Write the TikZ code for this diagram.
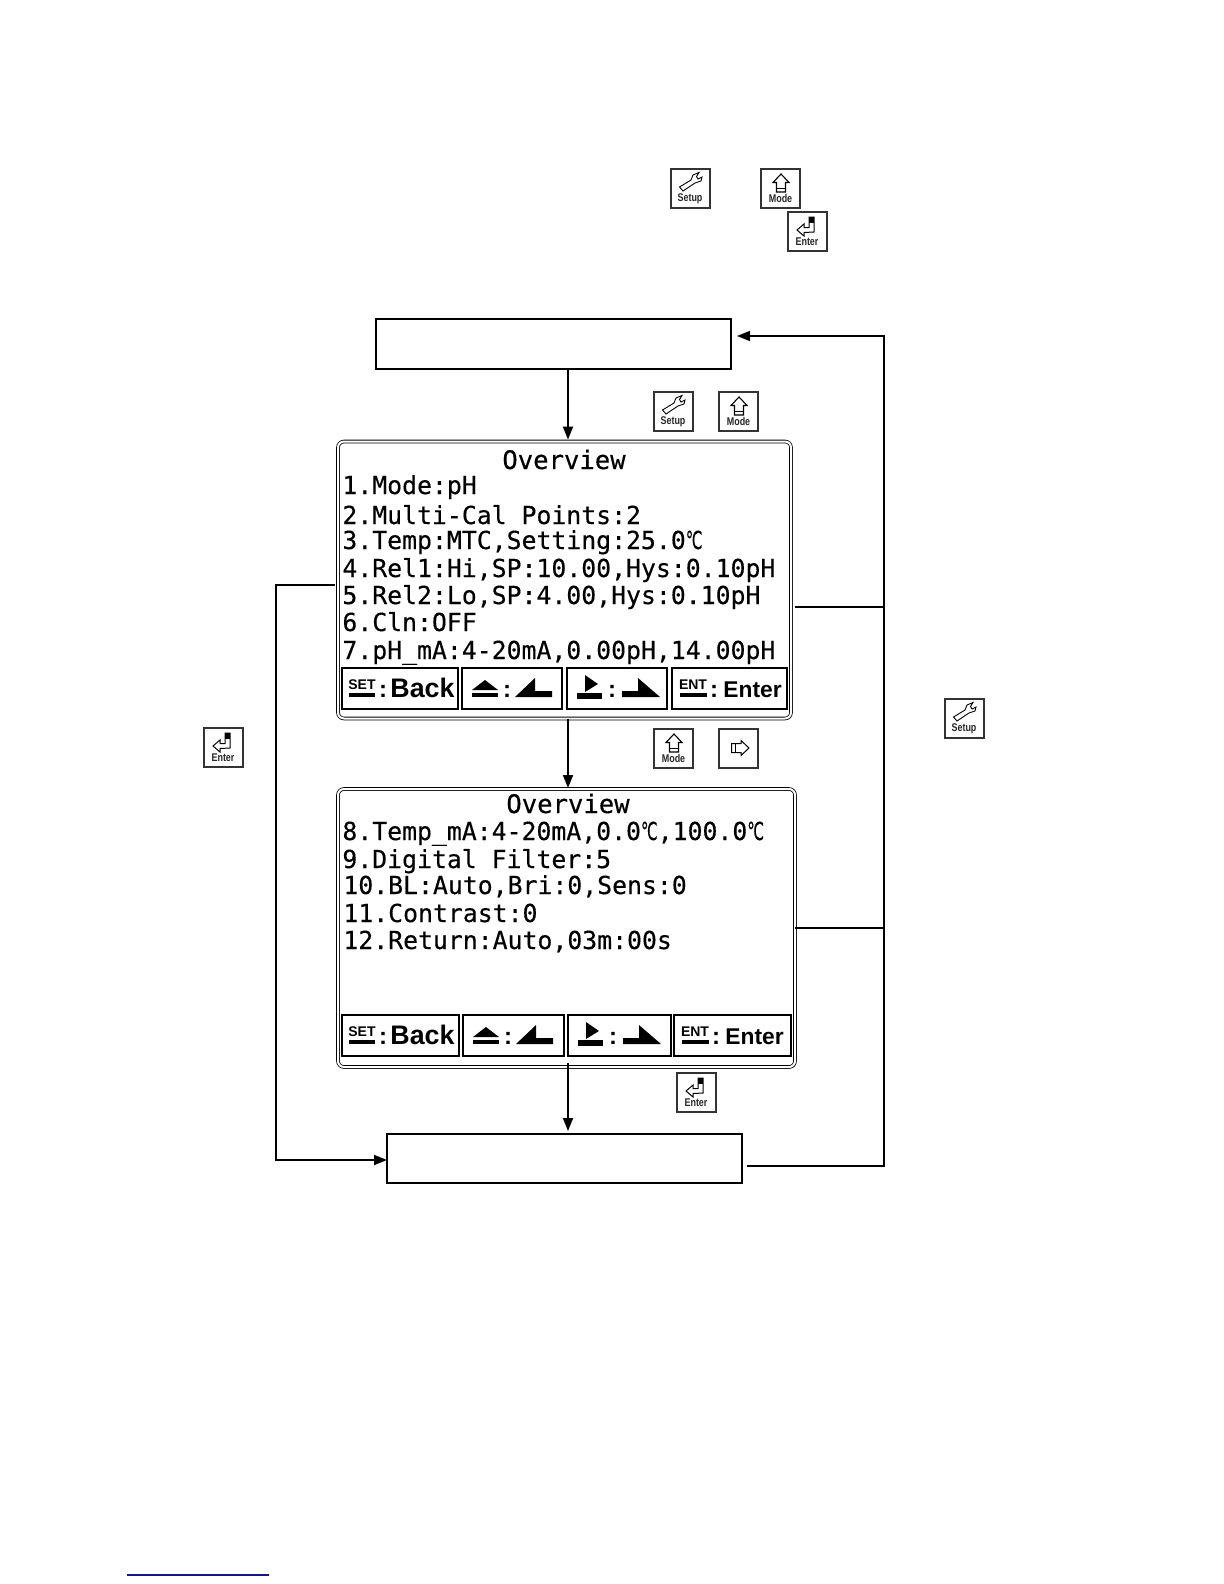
\documentclass[tikz,border=0pt]{standalone}
\usepackage{fontspec}
\setmainfont{Liberation Sans}
\newfontfamily\lcdfont[FakeBold=0.35]{DejaVu Sans Mono}
\newfontfamily\degfont[FakeBold=0.35]{DejaVu Sans}
\usepackage{tikz}
\usetikzlibrary{arrows.meta, positioning, calc}
\newcommand{\degc}{\scalebox{0.6}[1]{\degfont ℃}}
\newcommand{\keyword}[1]{\scalebox{0.8}[1]{#1}}
\tikzset{
    keyframe/.style={rectangle, draw=black!80, line width=0.6pt, minimum size=19.5pt, inner sep=0pt, outer sep=0pt, anchor=north west},
    keylabel/.style={inner sep=0pt, font=\bfseries\fontsize{5.6}{6}\selectfont, text=black!85},
    softkey/.style={rectangle, draw, line width=1.4pt, minimum height=20.5pt, inner sep=0pt, outer sep=0pt, anchor=north west},
    softtag/.style={inner sep=0pt, font=\bfseries\fontsize{7}{8}\selectfont},
    softword/.style={inner sep=0pt, anchor=base west, font=\bfseries\fontsize{13.4}{14}\selectfont},
    softcolon/.style={inner sep=0pt, font=\bfseries\fontsize{12}{14}\selectfont},
    panel/.style={rectangle, draw, line width=0.4pt, double, double distance=1pt, rounded corners=3pt, inner sep=0pt, outer sep=0pt},
    lcdline/.style={inner sep=0pt, anchor=base west, font=\lcdfont\fontsize{12.4}{14}\selectfont},
    lcdhead/.style={inner sep=0pt, anchor=base, font=\lcdfont\fontsize{12.8}{14}\selectfont},
    stepbox/.style={rectangle, draw, line width=0.55pt, inner sep=0pt, outer sep=0pt},
    arrow/.style={-{Stealth[length=6.5pt, width=5pt, inset=0pt]}, line width=0.9pt},
    thinline/.style={line width=0.55pt},
    pics/setupkey/.style={code={
        \node[keyframe] (-frame) at (0,0) {};
        \draw[line width=0.45pt] (8.5,18) -- (20,11) -- (22,6) -- (28,3.5) -- (25.5,7.5) -- (27,10) -- (31,8) -- (30,12) -- (24,14) -- (12,22) -- cycle;
        \node[keylabel] (-text) at (19,29.5) {\keyword{Setup}};
    }},
    pics/modekey/.style={code={
        \node[keyframe] (-frame) at (0,0) {};
        \draw[line width=0.55pt] (20,5) -- (28,13.5) -- (24.5,13.5) -- (24.5,23) -- (15.5,23) -- (15.5,13.5) -- (12,13.5) -- cycle;
        \draw[line width=0.55pt] (15.5,19.5) -- (24.5,19.5);
        \node[keylabel] (-text) at (19.5,29.5) {\keyword{Mode}};
    }},
    pics/enterkey/.style={code={
        \node[keyframe] (-frame) at (0,0) {};
        \draw[line width=0.5pt] (9,18) -- (16,12) -- (16,15.5) -- (21,15.5) -- (21,5) -- (26,5) -- (26,20) -- (16,20.5) -- (16,24) -- cycle;
        \fill (21,5) rectangle (26,11);
        \node[keylabel] (-text) at (19,29.5) {\keyword{Enter}};
    }},
    pics/shiftkey/.style={code={
        \node[keyframe] (-frame) at (0,0) {};
        \draw[line width=0.5pt] (12.5,14.5) -- (22,14.5) -- (22,11.5) -- (30,19) -- (22,26.5) -- (22,23.5) -- (12.5,23.5) -- cycle;
        \draw[line width=0.5pt] (16,14.5) -- (16,23.5);
    }},
    pics/backsoft/.style={code={
        \node[softkey, minimum width=#1*0.5pt] (-frame) at (0,0) {};
        \node[softtag] (-tag) at (20,17) {SET};
        \fill (7,25) rectangle (33,29);
        \node[softcolon] (-colon) at (41,23) {:};
        \node[softword] (-word) at (48,29) {Back};
    }},
    pics/upsoft/.style={code={
        \node[softkey, minimum width=#1*0.5pt] (-frame) at (0,0) {};
        \fill (10,22) -- (23,12) -- (36,22) -- cycle;
        \fill (10,25) rectangle (36,29);
        \node[softcolon] (-colon) at (45,23) {:};
        \fill (53,29) -- (73,10) -- (73,23) -- (90,23) -- (90,29) -- cycle;
    }},
    pics/rightsoft/.style={code={
        \node[softkey, minimum width=#1*0.5pt] (-frame) at (0,0) {};
        \fill (18,7) -- (31,16) -- (18,24) -- cycle;
        \fill (10,25) rectangle (35,31);
        \node[softcolon] (-colon) at (45,23) {:};
        \fill (55,29) -- (55,23) -- (71,23) -- (71,10) -- (93,29) -- cycle;
    }},
    pics/entersoft/.style={code={
        \node[softkey, minimum width=#1*0.5pt] (-frame) at (0,0) {};
        \node[softtag] (-tag) at (21,17) {ENT};
        \fill (8,25) rectangle (35,29);
        \node[softcolon] (-colon) at (42,23) {:};
        \node[softword, font=\bfseries\fontsize{11.4}{14}\selectfont] (-word) at (51,29) {Enter};
    }}
}
\begin{document}
\begin{tikzpicture}[x=0.5pt, y=-0.5pt]
\useasboundingbox (0,0) rectangle (1224,1584);

\pic (setupa) at (671,169) {setupkey};
\pic (modea) at (761,169) {modekey};
\pic (entera) at (788,212) {enterkey};

\node[stepbox, minimum width=177.5pt, minimum height=25pt] (start) at (553.5,344) {};
\node[stepbox, minimum width=177.5pt, minimum height=24.5pt] (finish) at (564.5,1158.5) {};
\node[panel, minimum width=226.5pt, minimum height=138.5pt] (panela) at (564.5,580) {};
\node[panel, minimum width=228.5pt, minimum height=139pt] (panelb) at (566.5,928) {};

\pic (setupb) at (654,392) {setupkey};
\pic (modeb) at (719,392) {modekey};
\pic (modec) at (654,729) {modekey};
\pic (shiftc) at (719,729) {shiftkey};
\pic (enterd) at (677,1073) {enterkey};
\pic (enterl) at (204,728) {enterkey};
\pic (setupr) at (945,699) {setupkey};

\node[lcdhead] (heada) at (564,469) {Overview};
\node[lcdline] (la) at (342,494) {1.Mode:pH};
\node[lcdline] (lb) at (342,524) {2.Multi-Cal Points:2};
\node[lcdline] (lc) at (342,549) {3.Temp:MTC,Setting:25.0\degc};
\node[lcdline] (ld) at (342,577) {4.Rel1:Hi,SP:10.00,Hys:0.10pH};
\node[lcdline] (le) at (342,604) {5.Rel2:Lo,SP:4.00,Hys:0.10pH};
\node[lcdline] (lf) at (342,631) {6.Cln:OFF};
\node[lcdline] (lg) at (342,659) {7.pH\_mA:4-20mA,0.00pH,14.00pH};

\pic (softaa) at (342,668) {backsoft=116};
\pic (softab) at (462,668) {upsoft=100};
\pic (softac) at (567,668) {rightsoft=100};
\pic (softad) at (672,668) {entersoft=115};

\node[lcdhead] (headb) at (568,813) {Overview};
\node[lcdline] (lh) at (342,840) {8.Temp\_mA:4-20mA,0.0\degc,100.0\degc};
\node[lcdline] (li) at (342,868) {9.Digital Filter:5};
\node[lcdline] (lj) at (343,894) {10.BL:Auto,Bri:0,Sens:0};
\node[lcdline] (lk) at (343,922) {11.Contrast:0};
\node[lcdline] (ll) at (343,949) {12.Return:Auto,03m:00s};

\pic (softba) at (342,1015) {backsoft=117};
\pic (softbb) at (463,1015) {upsoft=101};
\pic (softbc) at (568,1015) {rightsoft=103};
\pic (softbd) at (674,1015) {entersoft=117};

\coordinate (mid) at (568,0);
\coordinate (busa) at (884,607);
\coordinate (busb) at (884,928);
\coordinate (busc) at (884,1166);
\coordinate (bustop) at (884,336);
\coordinate (lefta) at (276,585);
\coordinate (leftb) at (276,1160);

\draw[arrow] (mid |- start.south) -- ([yshift=1pt]mid |- panela.north);
\draw[arrow] (mid |- panela.south) -- ([yshift=0.5pt]mid |- panelb.north);
\draw[arrow] ([yshift=2pt]mid |- panelb.south) -- ([yshift=1.5pt]mid |- finish.north);
\draw[arrow] ([xshift=-1.5pt]panela.west |- lefta) -- (lefta) -- (leftb) -- (finish.west |- leftb);
\draw[line width=0.7pt] ([xshift=2pt]panela.east |- busa) -- (busa);
\draw[thinline] (panelb.east |- busb) -- (busb);
\draw[arrow, line width=0.6pt] ([xshift=2.5pt]finish.east |- busc) -- (busc) -- (bustop) -- ([xshift=3pt]start.east |- bustop);

\draw[color={rgb,255:red,20;green,20;blue,140}, line width=0.7pt] (127,1575) -- (269,1575);
\end{tikzpicture}
\end{document}
